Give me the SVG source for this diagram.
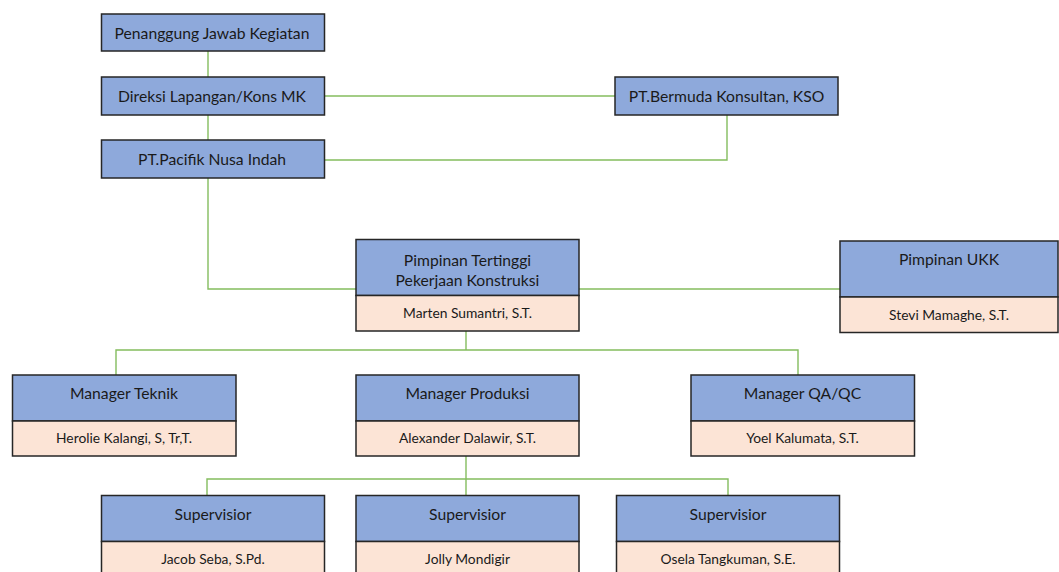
<svg xmlns="http://www.w3.org/2000/svg" width="1059" height="572" viewBox="0 0 1059 572">
<style>
.bg{fill:#ffffff}
.b{fill:#8EA9DB;stroke:#262626;stroke-width:1.5}
.p{fill:#FCE4D6;stroke:#262626;stroke-width:1.5}
.t{font-family:Lato,"Open Sans","Liberation Sans",sans-serif;font-size:15.7px;fill:#1a1a1a;text-anchor:middle;dominant-baseline:central}
.n{font-family:Lato,"Open Sans","Liberation Sans",sans-serif;font-size:13.8px;fill:#1a1a1a;text-anchor:middle;dominant-baseline:central}
.c{fill:none;stroke:#84BD5E;stroke-width:1.4}
</style>
<rect class="bg" x="0" y="0" width="1059" height="572"/>
<g id="connectors">
<path class="c" d="M208 51V77"/>
<path class="c" d="M208 115V140"/>
<path class="c" d="M324 96H615"/>
<path class="c" d="M324 160H727V115"/>
<path class="c" d="M208 178V289H356"/>
<path class="c" d="M579 289H840"/>
<path class="c" d="M466 331V350"/>
<path class="c" d="M116 375V350H798V375"/>
<path class="c" d="M466 456V479"/>
<path class="c" d="M207 495V479H728V495"/>
<path class="c" d="M466 479V495"/>
</g>
<g id="penanggung">
<rect class="b" x="101.5" y="14" width="223" height="37"/>
<text class="t" x="212" y="32.5">Penanggung Jawab Kegiatan</text>
</g>
<g id="direksi">
<rect class="b" x="101.5" y="77" width="223" height="38"/>
<text class="t" x="212" y="96">Direksi Lapangan/Kons MK</text>
</g>
<g id="pacifik">
<rect class="b" x="101.5" y="140" width="223" height="38"/>
<text class="t" x="212" y="158.5">PT.Pacifik Nusa Indah</text>
</g>
<g id="bermuda">
<rect class="b" x="615" y="77" width="223" height="38"/>
<text class="t" x="726.5" y="96">PT.Bermuda Konsultan, KSO</text>
</g>
<g id="pimpinan-tertinggi">
<rect class="b" x="356" y="239.5" width="223" height="56"/>
<rect class="p" x="356" y="295.5" width="223" height="35.5"/>
<text class="t" x="467.5" y="259.5">Pimpinan Tertinggi</text>
<text class="t" x="467.5" y="279.5">Pekerjaan Konstruksi</text>
<text class="n" x="467.5" y="312">Marten Sumantri, S.T.</text>
</g>
<g id="pimpinan-ukk">
<rect class="b" x="840" y="241" width="218" height="56"/>
<rect class="p" x="840" y="297" width="218" height="35.5"/>
<text class="t" x="949" y="258.5">Pimpinan UKK</text>
<text class="n" x="949" y="314">Stevi Mamaghe, S.T.</text>
</g>
<g id="manager-teknik">
<rect class="b" x="12.5" y="375" width="223.5" height="46"/>
<rect class="p" x="12.5" y="421" width="223.5" height="35"/>
<text class="t" x="124" y="392.5">Manager Teknik</text>
<text class="n" x="124" y="437.5">Herolie Kalangi, S, Tr,T.</text>
</g>
<g id="manager-produksi">
<rect class="b" x="356" y="375" width="223" height="46"/>
<rect class="p" x="356" y="421" width="223" height="35"/>
<text class="t" x="467.5" y="392.5">Manager Produksi</text>
<text class="n" x="467.5" y="437.5">Alexander Dalawir, S.T.</text>
</g>
<g id="manager-qaqc">
<rect class="b" x="691" y="375" width="223.5" height="46"/>
<rect class="p" x="691" y="421" width="223.5" height="35"/>
<text class="t" x="802.5" y="392.5">Manager QA/QC</text>
<text class="n" x="802.5" y="437.5">Yoel Kalumata, S.T.</text>
</g>
<g id="supervisor-1">
<rect class="b" x="101.5" y="495.5" width="223" height="46"/>
<rect class="p" x="101.5" y="541.5" width="223" height="40"/>
<text class="t" x="213" y="513.5">Supervisior</text>
<text class="n" x="213" y="558.5">Jacob Seba, S.Pd.</text>
</g>
<g id="supervisor-2">
<rect class="b" x="356" y="495.5" width="223" height="46"/>
<rect class="p" x="356" y="541.5" width="223" height="40"/>
<text class="t" x="467.5" y="513.5">Supervisior</text>
<text class="n" x="467.5" y="558.5">Jolly Mondigir</text>
</g>
<g id="supervisor-3">
<rect class="b" x="616.5" y="495.5" width="223" height="46"/>
<rect class="p" x="616.5" y="541.5" width="223" height="40"/>
<text class="t" x="728" y="513.5">Supervisior</text>
<text class="n" x="728" y="558.5">Osela Tangkuman, S.E.</text>
</g>
</svg>
